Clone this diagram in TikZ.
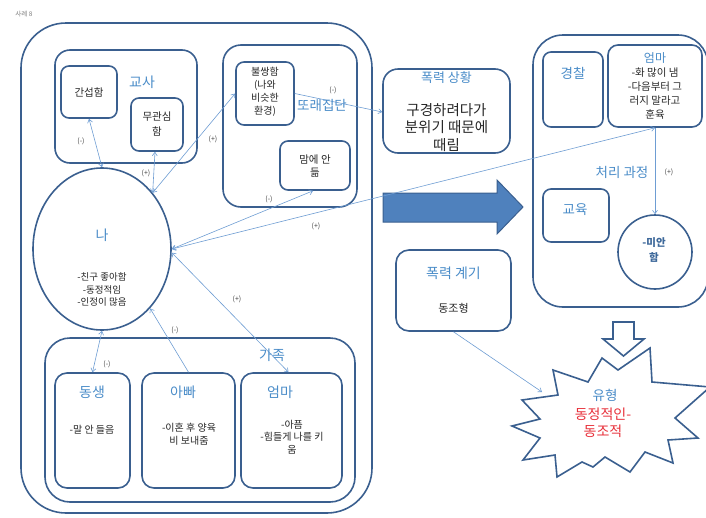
\documentclass[tikz,border=0pt]{standalone}
\usepackage{fontspec}
\setmainfont{Noto Sans CJK KR}
\usetikzlibrary{arrows.meta,shapes.geometric}
\definecolor{boxc}{HTML}{3A5F8F}
\definecolor{titlec}{HTML}{4A8CC8}
\definecolor{linec}{HTML}{6E9DD3}
\definecolor{fillc}{HTML}{4F81BD}
\definecolor{redc}{HTML}{E8303A}
\definecolor{txtc}{HTML}{262626}
\definecolor{labc}{HTML}{404040}
\newcommand\fsz[2]{\fontsize{#1}{#2}\selectfont}
\tikzset{
  box/.style={draw=boxc,line width=1.6pt,rounded corners=#1,inner sep=0pt,fill=none},
  box/.default=9pt,
  conn/.style={draw=linec,line width=0.6pt,arrows={Straight Barb[length=3.5pt,width=5pt]-Straight Barb[length=3.5pt,width=5pt]}},
  conne/.style={draw=linec,line width=0.6pt,arrows={-Straight Barb[length=3.5pt,width=5pt]}},
  ttl/.style={text=titlec,inner sep=0pt},
  body/.style={text=txtc,align=center,inner sep=0pt},
  lab/.style={text=labc,inner sep=0pt,font=\fsz{7}{7}},
}
\begin{document}
\begin{tikzpicture}[x=1pt,y=-1pt]
\useasboundingbox (0,0) rectangle (706,517);
% ---------- container boxes ----------
\node[box=45pt,minimum width=351pt,minimum height=490pt] (outer) at (196.5,268) {};
\node[box=15pt,minimum width=142pt,minimum height=113pt] (teach) at (126,106.5) {};
\node[box=18pt,minimum width=134pt,minimum height=162pt] (peer) at (290,126) {};
\node[box=25pt,minimum width=310pt,minimum height=164pt] (fam) at (200,420) {};
\node[box=30pt,minimum width=175pt,minimum height=272pt] (proc) at (620.5,171) {};
% ---------- inner boxes ----------
\node[box=8pt,minimum width=56pt,minimum height=52pt] (gs) at (89,92) {};
\node[box=8pt,minimum width=52pt,minimum height=53pt] (mg) at (157,124.5) {};
\node[box=8pt,minimum width=58pt,minimum height=63pt] (bs) at (265,93.5) {};
\node[box=8pt,minimum width=70pt,minimum height=49pt] (md) at (315,165.5) {};
\node[box=15pt,minimum width=127pt,minimum height=84pt] (sit) at (446.5,111) {};
\node[box=8pt,minimum width=60pt,minimum height=75pt] (police) at (573,89.5) {};
\node[box=10pt,minimum width=94pt,minimum height=82pt] (emr) at (655,86) {};
\node[box=8pt,minimum width=66pt,minimum height=53pt] (edu) at (576,215.5) {};
\node[draw=boxc,line width=1.6pt,circle,minimum size=74pt,inner sep=0pt] (sorry) at (655,252) {};
\node[box=13pt,minimum width=115pt,minimum height=81pt] (trig) at (453.5,290.5) {};
\node[draw=boxc,line width=1.6pt,ellipse,minimum width=138pt,minimum height=162pt,inner sep=0pt] (me) at (102,249) {};
\node[box=12pt,minimum width=75pt,minimum height=115pt] (ds) at (92.5,430.5) {};
\node[box=12pt,minimum width=93pt,minimum height=115pt] (ap) at (188.5,430.5) {};
\node[box=12pt,minimum width=101pt,minimum height=115pt] (emf) at (291.5,430.5) {};
% ---------- big arrows and starburst ----------
\draw[fill=fillc,draw=boxc,line width=1pt,line join=miter]
  (383,193) -- (497,193) -- (497,180) -- (523,207) -- (497,234) -- (497,222) -- (383,222) -- cycle;
\draw[fill=white,draw=boxc,line width=1.6pt,line join=miter]
  (613,322) -- (634,322) -- (634,339) -- (644,339) -- (623.5,356) -- (603,339) -- (613,339) -- cycle;
\draw[fill=white,draw=boxc,line width=1.6pt,line join=miter]
  (512,426) -- (540,419) -- (522,400) -- (558,395) -- (553,370) -- (588,382) -- (602,358)
  -- (618,370) -- (650,348) -- (652,382) -- (710,387) -- (675,418) -- (698,438) -- (668,440)
  -- (673,463) -- (645,452) -- (630,472) -- (605,457) -- (593,467) -- (582,462)
  -- (557,477) -- (555,455) -- (523,460) -- (540,438) -- cycle;
\coordinate (starin) at (542,392);
% ---------- connectors ----------
\draw[conn] (gs.south) -- (me.north);
\draw[conn] ([xshift=-2pt]mg.south) -- (me.48);
\draw[conn] (me.48) -- (bs.west);
\draw[conne] (bs.east) -- ([yshift=-1pt]sit.west);
\draw[conn] ([xshift=-2pt]md.south) -- (me.east);
\draw[conn] (emr.south) -- (me.east);
\draw[conn] (me.-3) -- ([xshift=-3pt]emf.north);
\draw[conne] (ap.north) -- (me.-51);
\draw[conn] (ds.north) -- (me.south);
\draw[conne] (emr.south) -- (sorry.north);
\draw[conne] (trig.south) -- (starin);
% ---------- connector labels ----------
\node[lab] (l1) at (81,141) {(-)};
\node[lab] (l2) at (146,173) {(+)};
\node[lab] (l3) at (213,139) {(+)};
\node[lab] (l4) at (333,90) {(-)};
\node[lab] (l5) at (269,199) {(-)};
\node[lab] (l6) at (316,226) {(+)};
\node[lab] (l7) at (237,299) {(+)};
\node[lab] (l8) at (175,330) {(-)};
\node[lab] (l9) at (107,364) {(-)};
\node[lab] (l10) at (669,172) {(+)};
% ---------- texts ----------
\node[inner sep=0pt,text=gray,font=\fsz{6.5}{6.5}] (case) at (24,14) {사례 8};
\node[ttl,font=\fsz{14}{14}] (t_teach) at (142,82) {교사};
\node[body,font=\fsz{10.5}{13}] (t_gs) at (89,92) {간섭함};
\node[body,font=\fsz{10.5}{15}] (t_mg) at (157,124.5) {무관심\\함};
\node[body,font=\fsz{10}{13}] (t_bs) at (265,92) {불쌍함\\(나와\\비슷한\\환경)};
\node[ttl,font=\fsz{13.5}{13.5}] (t_peer) at (322,105) {또래집단};
\node[body,font=\fsz{10.5}{13}] (t_md) at (315,166) {맘에 안\\듦};
\node[ttl,font=\fsz{13}{13}] (t_sit) at (446.5,78) {폭력 상황};
\node[body,font=\fsz{14.5}{17.5}] (t_sitb) at (446.5,127.5) {구경하려다가\\분위기 때문에\\때림};
\node[ttl,font=\fsz{13.5}{13.5}] (t_police) at (573,73) {경찰};
\node[ttl,font=\fsz{12}{12}] (t_emr) at (655,58) {엄마};
\node[body,font=\fsz{10.5}{14}] (t_emrb) at (655,94) {-화 많이 냄\\-다음부터 그\\러지 말라고\\훈육};
\node[ttl,font=\fsz{13.5}{13.5}] (t_proc) at (622,172) {처리 과정};
\node[ttl,font=\fsz{13.5}{13.5}] (t_edu) at (575,210) {교육};
\node[inner sep=0pt,align=center,text=boxc!80!titlec,font=\bfseries\fsz{10.5}{15}] (t_sorry) at (654,250.5) {-미안\\함};
\node[ttl,font=\fsz{14}{14}] (t_trig) at (453.5,273) {폭력 계기};
\node[body,font=\fsz{11}{13}] (t_trigb) at (453.5,308) {동조형};
\node[ttl,font=\fsz{14}{14}] (t_me) at (102,235) {나};
\node[body,font=\fsz{9.5}{12.5}] (t_meb) at (102,289.5) {-친구 좋아함\\-동정적임\\-인정이 많음};
\node[ttl,font=\fsz{14}{14}] (t_fam) at (272,355) {가족};
\node[ttl,font=\fsz{14}{14}] (t_ds) at (92,392) {동생};
\node[body,font=\fsz{10}{12.5}] (t_dsb) at (92,430) {-말 안 들음};
\node[ttl,font=\fsz{14}{14}] (t_ap) at (183,392) {아빠};
\node[body,font=\fsz{10}{12.5}] (t_apb) at (189,434) {-이혼 후 양육\\비 보내줌};
\node[ttl,font=\fsz{14}{14}] (t_emf) at (280,392) {엄마};
\node[body,font=\fsz{10}{12.5}] (t_emfb) at (292,437) {-아픔\\-힘들게 나를 키\\움};
\node[ttl,font=\fsz{13.5}{13.5}] (t_type) at (605,395) {유형};
\node[inner sep=0pt,align=center,text=redc,font=\fsz{14}{17}] (t_typeb) at (603,422.5) {동정적인-\\동조적};
\end{tikzpicture}
\end{document}
